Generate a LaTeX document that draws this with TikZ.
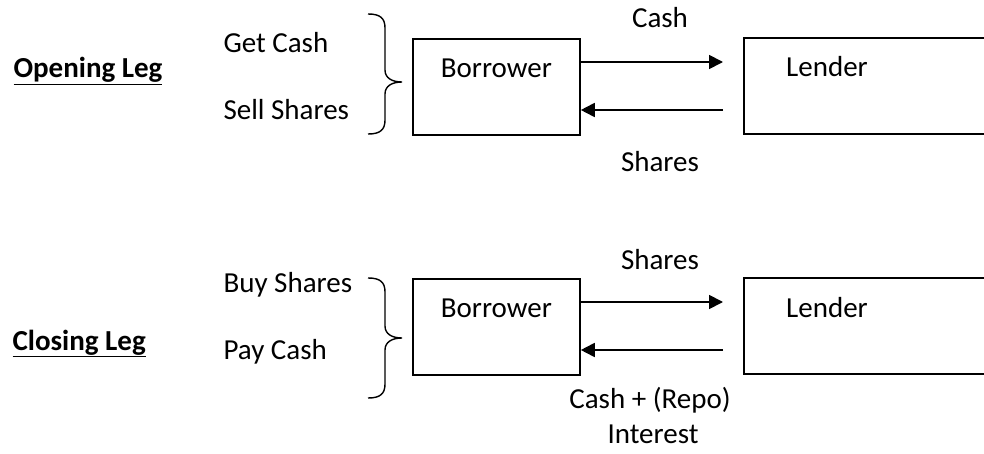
\documentclass[tikz,border=0pt]{standalone}
\usepackage{fontspec}
\setmainfont{Carlito}
\usetikzlibrary{arrows.meta,positioning}

\begin{document}
\begin{tikzpicture}[x=1pt,y=-1pt,
  every node/.style={font=\fontsize{29}{35}\selectfont},
  party/.style={draw, line width=1.8pt, inner sep=0pt, text width=167pt,
    align=center, text height=39pt, text depth=57pt, anchor=north west},
  flow/.style={line width=1.8pt, -{Triangle[length=14pt,width=14pt]}},
  word/.style={anchor=base west},
  tag/.style={anchor=base},
  legtitle/.style={anchor=base west, font=\fontsize{29}{35}\selectfont\bfseries}
]

% --- Page ---
\clip (0,0) rectangle (984,454);

% --- Brace shape (tip at origin, #1 up, #2 down) ---
\def\legbrace#1#2{
  (-34,-#1) .. controls (-22,-#1) and (-17,{-#1+4}) .. (-17,{-#1+14})
  -- (-17,-12) .. controls (-17,-4) and (-10,0) .. (0,0)
  .. controls (-10,0) and (-17,4) .. (-17,12)
  -- (-17,{#2-14}) .. controls (-17,{#2-4}) and (-22,#2) .. (-34,#2)
}

% ================= Opening leg =================
\node[legtitle] (openleg) at (10,78) {\underline{Opening Leg}};
\node[word] (getcash) at (220,53) {Get Cash};
\node[word] (sellsh) at (220,120) {Sell Shares};

\begin{scope}[shift={(402,82)}]
\draw[line width=1.4pt] \legbrace{68}{52};
\end{scope}

\node[party] (borrA) at (412,38) {Borrower};

% lender box runs off the page
\draw[line width=1.8pt] (995,38) -| (744,134) -- (995,134);
\node[tag] (lendA) at (827,77) {Lender};

\coordinate (toLendA) at (723,62);
\coordinate (fromLendA) at (723,110);
\draw[flow] (borrA.east |- toLendA) -- (toLendA);
\draw[flow] (fromLendA) -- (borrA.east |- fromLendA);

\node[tag] (cashA) at (660,28) {Cash};
\node[tag] (sharesA) at (660,172) {Shares};

% ================= Closing leg =================
\node[legtitle] (closeleg) at (9,350) {\underline{Closing Leg}};
\node[word] (buysh) at (220,292) {Buy Shares};
\node[word] (paycash) at (220,359) {Pay Cash};

\begin{scope}[shift={(402,338)}]
\draw[line width=1.4pt] \legbrace{60}{60};
\end{scope}

\node[party] (borrB) at (412,278) {Borrower};

\draw[line width=1.8pt] (995,278) -| (744,374) -- (995,374);
\node[tag] (lendB) at (827,317) {Lender};

\coordinate (toLendB) at (723,302);
\coordinate (fromLendB) at (723,350);
\draw[flow] (borrB.east |- toLendB) -- (toLendB);
\draw[flow] (fromLendB) -- (borrB.east |- fromLendB);

\node[tag] (sharesB) at (660,269) {Shares};
\node[tag] (cashB) at (650,408) {Cash + (Repo)};
\node[tag] (interest) at (653,443) {Interest};

\end{tikzpicture}
\end{document}
